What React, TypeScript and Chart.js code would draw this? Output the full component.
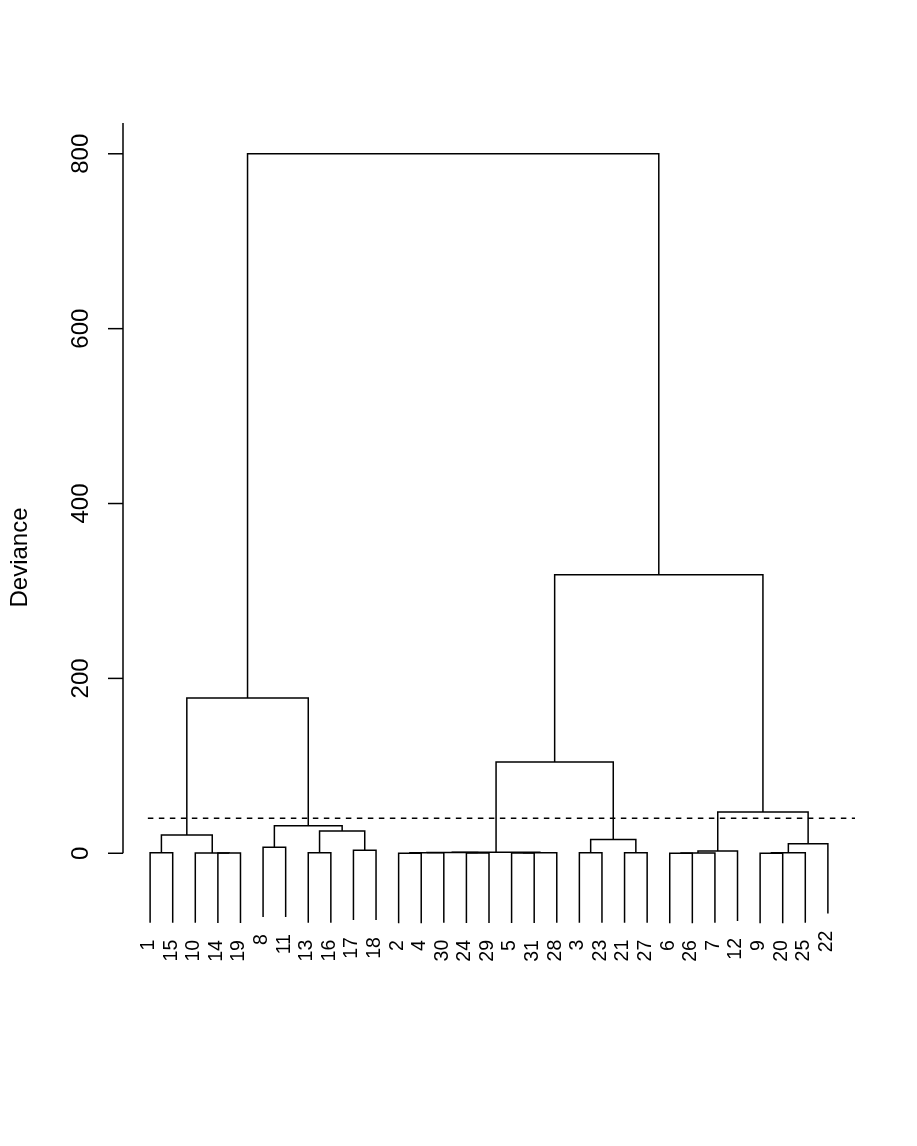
import React, { useEffect, useRef } from "react";
import { Chart, registerables } from "chart.js";

Chart.register(...registerables);

// Leaves in the order they are drawn, left to right
const leafOrder = [1, 15, 10, 14, 19, 8, 11, 13, 16, 17, 18, 2, 4, 30, 24, 29, 5, 31, 28, 3, 23, 21, 27, 6, 26, 7, 12, 9, 20, 25, 22];

// hclust-style merge table: negative = leaf label, positive = earlier merge (1-based)
const mergeA = [-14, -10, -1, 3, -8, -13, -17, 6, 5, 4, -2, 11, -24, 12, -5, 15, 14, -3, -21, 18, 17, -6, 22, 23, -9, 25, 26, 24, 21, 10];
const mergeB = [-19, 1, -15, 2, -11, -16, -18, 7, 8, 9, -4, -30, -29, 13, -31, -28, 16, -23, -27, 19, 20, -26, -7, -12, -20, -25, -22, 27, 28, 29];
const mergeHeight = [0.2, 0.4, 0.5, 21, 7.0, 0.6, 3.6, 25.5, 31.5, 177.5, 0.1, 0.5, 0.3, 0.9, 0.2, 0.5, 1.3, 0.5, 0.5, 15.7, 104.5, 0.1, 0.4, 2.6, 0.1, 0.5, 11, 47.3, 318.5, 800];

const yTicks = [0, 200, 400, 600, 800];
const yTitle = "Deviance";
const cutHeight = 40;
const cutSpan = [0.9, 32.2];
const hangFraction = 0.1;

const FONT = '"Liberation Sans", Arial, Helvetica, sans-serif';

export default function App() {
  const ref = useRef<HTMLCanvasElement | null>(null);

  useEffect(() => {
    const canvas = ref.current;
    if (!canvas) return;

    const leafPos = new Map<number, number>();
    leafOrder.forEach((l, i) => leafPos.set(l, i + 1));
    const hMax = Math.max(...mergeHeight);
    const hMin = Math.min(...mergeHeight);
    const hang = hangFraction * (hMax - hMin);

    const nodeX: number[] = [];
    const leafEnd = new Map<number, number>();
    const datasets: any[] = [];

    const childX = (c: number) => (c < 0 ? (leafPos.get(-c) as number) : nodeX[c - 1]);
    const childY = (c: number, h: number) => (c < 0 ? h - hang : mergeHeight[c - 1]);

    for (let i = 0; i < mergeHeight.length; i++) {
      const a = mergeA[i];
      const b = mergeB[i];
      const h = mergeHeight[i];
      const xa = childX(a);
      const xb = childX(b);
      nodeX.push((xa + xb) / 2);
      if (a < 0) leafEnd.set(-a, h - hang);
      if (b < 0) leafEnd.set(-b, h - hang);
      datasets.push({
        type: "line",
        data: [
          { x: xa, y: childY(a, h) },
          { x: xa, y: h },
          { x: xb, y: h },
          { x: xb, y: childY(b, h) },
        ],
        borderColor: "#000",
        borderWidth: 1.5,
        pointRadius: 0,
        fill: false,
        tension: 0,
      });
    }

    datasets.push({
      type: "line",
      data: [
        { x: cutSpan[0], y: cutHeight },
        { x: cutSpan[1], y: cutHeight },
      ],
      borderColor: "#000",
      borderWidth: 1.5,
      borderDash: [5.5, 5.5],
      pointRadius: 0,
      fill: false,
    });

    const decor = {
      id: "decor",
      afterDatasetsDraw(chart: any) {
        const ctx = chart.ctx;
        const xs = chart.scales.x;
        const ys = chart.scales.y;
        const left = chart.chartArea.left;
        ctx.save();
        ctx.strokeStyle = "#000";
        ctx.fillStyle = "#000";
        ctx.lineWidth = 1.5;
        // axis line
        ctx.beginPath();
        ctx.moveTo(left, ys.getPixelForValue(yTicks[0]));
        ctx.lineTo(left, ys.getPixelForValue(ys.max));
        ctx.stroke();
        // ticks and labels
        ctx.font = "24px " + FONT;
        ctx.textAlign = "center";
        ctx.textBaseline = "alphabetic";
        yTicks.forEach((t) => {
          const py = ys.getPixelForValue(t);
          ctx.beginPath();
          ctx.moveTo(left, py);
          ctx.lineTo(left - 15, py);
          ctx.stroke();
          ctx.save();
          ctx.translate(left - 35, py);
          ctx.rotate(-Math.PI / 2);
          ctx.fillText(String(t), 0, 0);
          ctx.restore();
        });
        // title
        const midY = (ys.getPixelForValue(ys.min) + ys.getPixelForValue(ys.max)) / 2 + 19;
        ctx.save();
        ctx.translate(27, midY);
        ctx.rotate(-Math.PI / 2);
        ctx.fillText(yTitle, 0, 0);
        ctx.restore();
        // leaf labels
        ctx.font = "19.5px " + FONT;
        ctx.textAlign = "right";
        ctx.textBaseline = "middle";
        leafOrder.forEach((l) => {
          const px = xs.getPixelForValue(leafPos.get(l) as number) - 1.5;
          const py = ys.getPixelForValue(leafEnd.get(l) as number) + 17;
          ctx.save();
          ctx.translate(px, py);
          ctx.rotate(-Math.PI / 2);
          ctx.fillText(String(l), 0, 0);
          ctx.restore();
        });
        ctx.restore();
      },
    };

    const chart = new Chart(canvas, {
      type: "scatter",
      data: { datasets },
      options: {
        animation: false,
        responsive: false,
        maintainAspectRatio: false,
        layout: { padding: { top: 123, bottom: 192, left: 123, right: 62 } },
        plugins: { legend: { display: false }, tooltip: { enabled: false } },
        scales: {
          x: { type: "linear", min: -0.2, max: 32.2, display: false },
          y: { type: "linear", min: -115.2, max: 835.2, display: false },
        },
      },
      plugins: [decor],
    } as any);

    return () => chart.destroy();
  }, []);

  return (
    <div style={{ position: "absolute", left: 0, top: 0, width: 917, height: 1146, background: "#fff" }}>
      <canvas ref={ref} width={917} height={1146} style={{ display: "block" }} />
    </div>
  );
}
